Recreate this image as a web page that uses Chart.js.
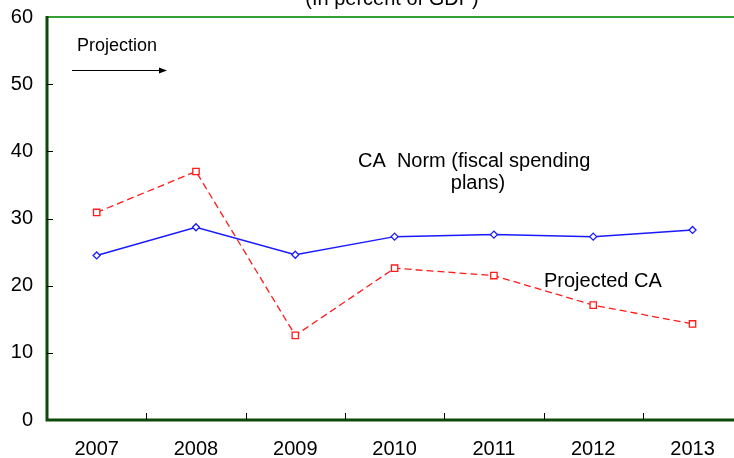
<!DOCTYPE html>
<html>
<head>
<meta charset="utf-8">
<script src="https://cdn.jsdelivr.net/npm/chart.js@4"></script>
<style>
  html, body { margin: 0; padding: 0; background: #fff; overflow: hidden; }
  #wrap { width: 734px; height: 458px; overflow: hidden; }
</style>
</head>
<body>
<div id="wrap"><canvas id="myChart" width="748" height="458"></canvas></div>
<script>
var years = ["2007", "2008", "2009", "2010", "2011", "2012", "2013"];
var caNorm = [24.5, 28.7, 24.6, 27.3, 27.6, 27.3, 28.3];
var projectedCA = [30.9, 37.0, 12.6, 22.6, 21.5, 17.1, 14.3];
var yTicks = [0, 10, 20, 30, 40, 50, 60];

var font = "'Liberation Sans', Arial, sans-serif";

// frame, tick marks and text notes
var decor = {
  id: "decor",
  afterDraw: function (chart) {
    var ctx = chart.ctx;
    var a = chart.chartArea;
    var xs = chart.scales.x;
    var ys = chart.scales.y;
    ctx.save();

    // top border
    ctx.strokeStyle = "#35a035";
    ctx.lineWidth = 2;
    ctx.beginPath();
    ctx.moveTo(a.left, a.top);
    ctx.lineTo(a.right, a.top);
    ctx.stroke();

    // left and bottom axes
    ctx.strokeStyle = "#0b4a0b";
    ctx.lineWidth = 3;
    ctx.beginPath();
    ctx.moveTo(a.left, a.top - 1);
    ctx.lineTo(a.left, a.bottom);
    ctx.lineTo(a.right, a.bottom);
    ctx.stroke();

    // y ticks pointing inward
    ctx.strokeStyle = "#000";
    ctx.lineWidth = 1;
    yTicks.slice(1, -1).forEach(function (v) {
      var py = Math.round(ys.getPixelForValue(v)) + 0.5;
      ctx.beginPath();
      ctx.moveTo(a.left, py);
      ctx.lineTo(a.left + 6, py);
      ctx.stroke();
    });
    // x ticks between categories
    for (var i = 0; i < years.length - 1; i++) {
      var px = Math.round((xs.getPixelForValue(i) + xs.getPixelForValue(i + 1)) / 2) + 0.5;
      ctx.beginPath();
      ctx.moveTo(px, a.bottom);
      ctx.lineTo(px, a.bottom - 7);
      ctx.stroke();
    }

    ctx.fillStyle = "#000";
    ctx.textBaseline = "alphabetic";

    // title, cut off at the top
    ctx.font = "20px " + font;
    ctx.textAlign = "center";
    ctx.fillText("(In percent of GDP)", 392, 5);

    // projection note and arrow
    ctx.font = "18px " + font;
    ctx.textAlign = "left";
    ctx.fillText("Projection", 77, 51);
    ctx.beginPath();
    ctx.moveTo(72, 70.5);
    ctx.lineTo(160, 70.5);
    ctx.stroke();
    ctx.beginPath();
    ctx.moveTo(167, 70.5);
    ctx.lineTo(159, 67.5);
    ctx.lineTo(159, 73.5);
    ctx.closePath();
    ctx.fill();

    // series notes
    ctx.font = "20px " + font;
    ctx.fillText("CA  Norm (fiscal spending", 358, 167);
    ctx.textAlign = "center";
    ctx.fillText("plans)", 478, 189);
    ctx.textAlign = "left";
    ctx.fillText("Projected CA", 544, 287);

    ctx.restore();
  }
};

new Chart("myChart", {
  type: "line",
  data: {
    labels: years,
    datasets: [{
      label: "CA Norm (fiscal spending plans)",
      data: caNorm,
      borderColor: "#1a1aff",
      backgroundColor: "#ffffff",
      borderWidth: 1.5,
      pointStyle: "rectRot",
      pointRadius: 3.5,
      pointBorderWidth: 1.3,
      tension: 0
    }, {
      label: "Projected CA",
      data: projectedCA,
      borderColor: "#ff1a1a",
      backgroundColor: "#ffffff",
      borderWidth: 1.3,
      borderDash: [7, 4],
      pointStyle: "rect",
      pointRadius: 4.5,
      pointBorderWidth: 1.3,
      tension: 0
    }]
  },
  options: {
    responsive: false,
    animation: false,
    layout: { padding: { top: 17, left: 0, right: 0, bottom: 0 } },
    plugins: {
      legend: { display: false },
      title: { display: false },
      tooltip: { enabled: false }
    },
    scales: {
      x: {
        offset: true,
        grid: { display: false, drawTicks: false },
        border: { display: false },
        ticks: { color: "#000", font: { family: font, size: 20 }, padding: 17 },
        afterFit: function (s) {
          s.height = 38;
          s.paddingLeft = 0;
          s.paddingRight = 0;
        }
      },
      y: {
        min: 0,
        max: 60,
        grid: { display: false, drawTicks: false },
        border: { display: false },
        afterBuildTicks: function (s) {
          s.ticks = yTicks.map(function (v) { return { value: v }; });
        },
        ticks: { color: "#000", font: { family: font, size: 20 }, padding: 14 },
        afterFit: function (s) {
          s.width = 47;
          s.paddingTop = 0;
          s.paddingBottom = 0;
        }
      }
    }
  },
  plugins: [decor]
});
</script>
</body>
</html>
